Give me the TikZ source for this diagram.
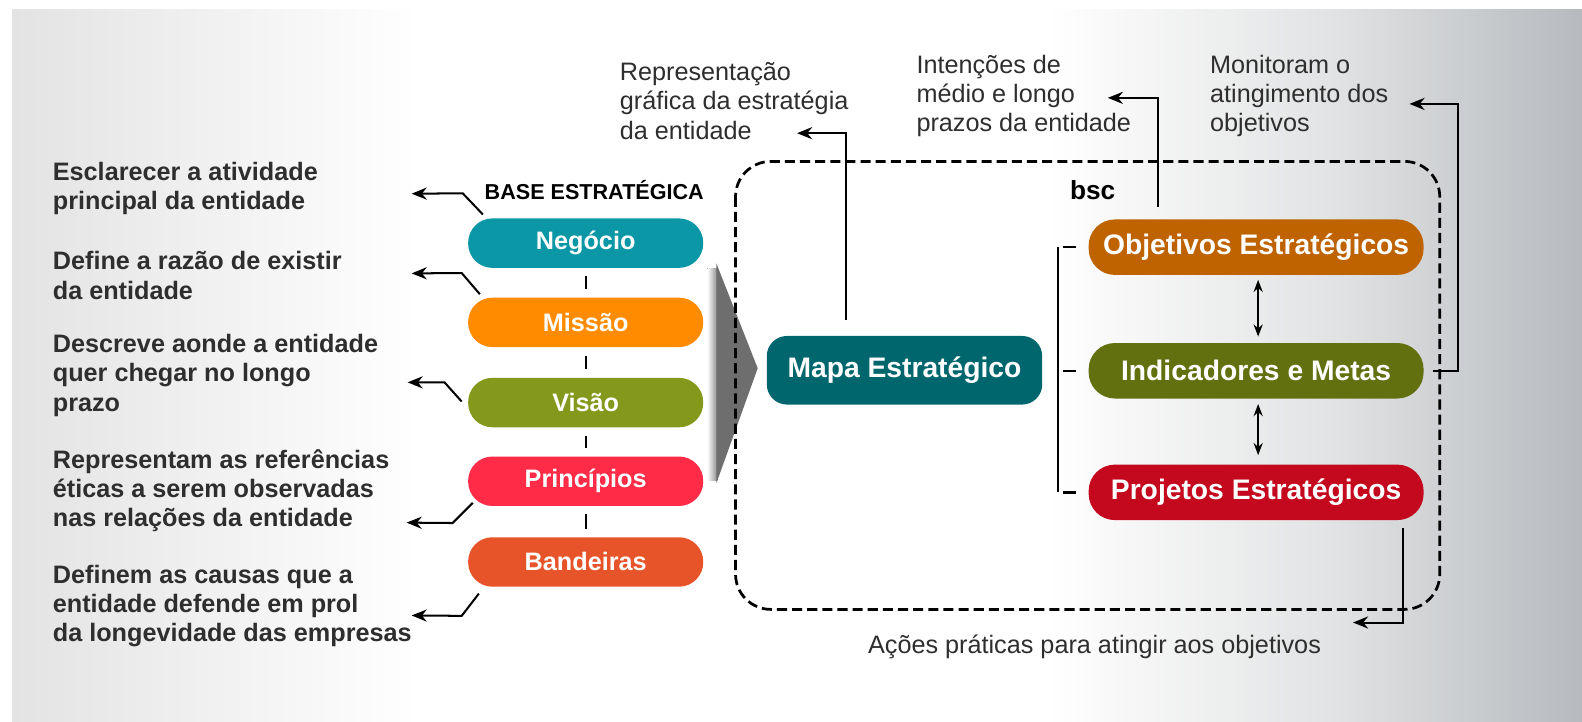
\documentclass[tikz,border=0pt]{standalone}
\usepackage{fontspec}
\setmainfont{Liberation Sans}
\usetikzlibrary{arrows.meta,calc}

\definecolor{negcol}{HTML}{0B97A5}
\definecolor{miscol}{HTML}{FF8C00}
\definecolor{viscol}{HTML}{84981B}
\definecolor{pricol}{HTML}{FF2B47}
\definecolor{bancol}{HTML}{E8542A}
\definecolor{mapcol}{HTML}{00666E}
\definecolor{objcol}{HTML}{BF6200}
\definecolor{indcol}{HTML}{637010}
\definecolor{procol}{HTML}{C4091F}
\definecolor{arrowgray}{HTML}{6E6E6E}
\definecolor{notecol}{HTML}{2E2E2E}
\definecolor{panleft}{HTML}{E3E3E3}
\definecolor{panmid}{HTML}{E2E3E4}
\definecolor{panright}{HTML}{B6BABE}

\pgfdeclarehorizontalshading{panelshade}{100bp}{color(0bp)=(panleft); color(25bp)=(panleft); color(38bp)=(white); color(58bp)=(white); color(67bp)=(panmid); color(75bp)=(panright); color(100bp)=(panright)}

\tikzset{
  basebox/.style={rectangle, rounded corners=12pt, minimum width=116.5pt, minimum height=24.5pt,
    inner sep=0pt, text=white, font=\bfseries\fontsize{12.5}{14}\selectfont},
  bscbox/.style={rectangle, rounded corners=13pt, minimum width=166pt, minimum height=27.5pt,
    inner sep=0pt, text=white, font=\bfseries\fontsize{14}{16}\selectfont},
  mapbox/.style={rectangle, rounded corners=10pt, minimum width=136.5pt, minimum height=34pt,
    inner sep=0pt, text=white, fill=mapcol, font=\bfseries\fontsize{14}{16}\selectfont},
  leftnote/.style={anchor=west, align=left, inner sep=0pt, text=notecol,
    font=\bfseries\fontsize{12.5}{14.5}\selectfont},
  topnote/.style={anchor=west, align=left, inner sep=0pt, text=notecol,
    font=\fontsize{12.5}{14.5}\selectfont},
  linkarrow/.style={-{Stealth[length=7.5pt,width=6pt]}, line width=1pt},
  dblarrow/.style={{Stealth[length=6pt,width=4.5pt]}-{Stealth[length=6pt,width=4.5pt]}, line width=1pt},
  tick/.style={line width=1pt, shorten <=4pt, shorten >=4pt},
  bracket/.style={line width=0.9pt},
  bscframe/.style={line width=1.35pt, dash pattern=on 5pt off 2.5pt, rounded corners=17.5pt},
}

\begin{document}
\begin{tikzpicture}[x=0.5pt, y=-0.5pt]
% canvas and background
\useasboundingbox (0,0) rectangle (1568,715);
\fill[white] (0,0) rectangle (1568,715);
\shade[shading=panelshade] (12,9) rectangle (1568,715);

% base estrategica column
\node[font=\bfseries\fontsize{10.7}{12}\selectfont] (basetitle) at (589,188) {BASE ESTRATÉGICA};
\node[basebox, fill=negcol] (neg) at (580.5,241) {Negócio};
\node[basebox, fill=miscol] (mis) at (580.5,319.5) {Missão};
\node[basebox, fill=viscol] (vis) at (580.5,399) {Visão};
\node[basebox, fill=pricol] (pri) at (580.5,477) {Princípios};
\node[basebox, fill=bancol] (ban) at (580.5,557) {Bandeiras};

\draw[tick] (neg) -- (mis);
\draw[tick] (mis) -- (vis);
\draw[tick] (vis) -- (pri);
\draw[tick] (pri) -- (ban);

\node[leftnote] (ntneg) at (52,187) {Esclarecer a atividade\\principal da entidade};
\node[leftnote] (ntmis) at (52,273) {Define a razão de existir\\da entidade};
\node[leftnote] (ntvis) at (52,372) {Descreve aonde a entidade\\quer chegar no longo\\prazo};
\node[leftnote] (ntpri) at (52,486.5) {Representam as referências\\éticas a serem observadas\\nas relações da entidade};
\node[leftnote] (ntban) at (52,600.5) {Definem as causas que a\\entidade defende em prol\\da longevidade das empresas};

\coordinate (tipneg) at (408,192);
\coordinate (tipmis) at (408,271);
\coordinate (tipvis) at (404,379);
\coordinate (tippri) at (403,518);
\coordinate (tipban) at (408,610);
\draw[linkarrow] ($(neg.north west)+(15,-3.5)$) -- ++(-20,-21) -- (tipneg);
\draw[linkarrow] ($(mis.north west)+(12,-3)$) -- ++(-18,-21) -- (tipmis);
\draw[linkarrow] ($(vis.west)+(-6,-1)$) -- ++(-17,-19) -- (tipvis);
\draw[linkarrow] ($(pri.south west)+(5,-3.5)$) -- ++(-20,20) -- (tippri);
\draw[linkarrow] ($(ban.south west)+(11,6.5)$) -- ++(-17,22) -- (tipban);

% big arrow into the map
\fill[left color=white, right color=arrowgray!80] (701,266) rectangle (711,476);
\fill[arrowgray] (710,261) -- (751,365) -- (710,479) -- cycle;

% bsc frame
\draw[bscframe] (729,160) rectangle (1427,604);
\node[font=\bfseries\fontsize{13}{15}\selectfont] (bsctitle) at (1083,188) {bsc};

\node[mapbox] (map) at (896.5,367) {Mapa Estratégico};
\node[bscbox, fill=objcol] (obj) at (1245,245) {Objetivos Estratégicos};
\node[bscbox, fill=indcol] (ind) at (1245,367.5) {Indicadores e Metas};
\node[bscbox, fill=procol] (pro) at (1245,488) {Projetos Estratégicos};

\draw[bracket] ($(obj.west)+(-30,0)$) -- ($(pro.west)+(-30,0)$);
\foreach \n in {obj,ind,pro}
  \draw[line width=1.2pt] ($(\n.west)+(-25,0)$) -- ++(13,0);

\draw[dblarrow] ([xshift=1pt,yshift=-2.25pt]obj.south) -- ([xshift=1pt,yshift=3pt]ind.north);
\draw[dblarrow] ([xshift=1pt,yshift=-2.5pt]ind.south) -- ([xshift=1pt,yshift=4.5pt]pro.north);

% notes around the bsc
\node[topnote] (ntmap) at (614,100) {Representação\\gráfica da estratégia\\da entidade};
\node[topnote] (ntobj) at (908,95) {Intenções de\\médio e longo\\prazos da entidade};
\node[topnote] (ntind) at (1199,95) {Monitoram o\\atingimento dos\\objetivos};
\node[topnote] (ntpro) at (860,641) {Ações práticas para atingir aos objetivos};

\coordinate (tipmap) at (790,132);
\coordinate (tipobj) at (1098,97);
\coordinate (tipind) at (1397,103);
\coordinate (tippro) at (1341,617);
\draw[linkarrow] ($(map.north west)+(79,-15)$) |- (tipmap);
\draw[linkarrow] ($(obj.north west)+(69,-12)$) |- (tipobj);
\draw[linkarrow] ($(ind.east)+(9,0)$) -- ++(25,0) |- (tipind);
\draw[linkarrow] ($(pro.south east)+(-21,7.5)$) |- (tippro);
\end{tikzpicture}
\end{document}
